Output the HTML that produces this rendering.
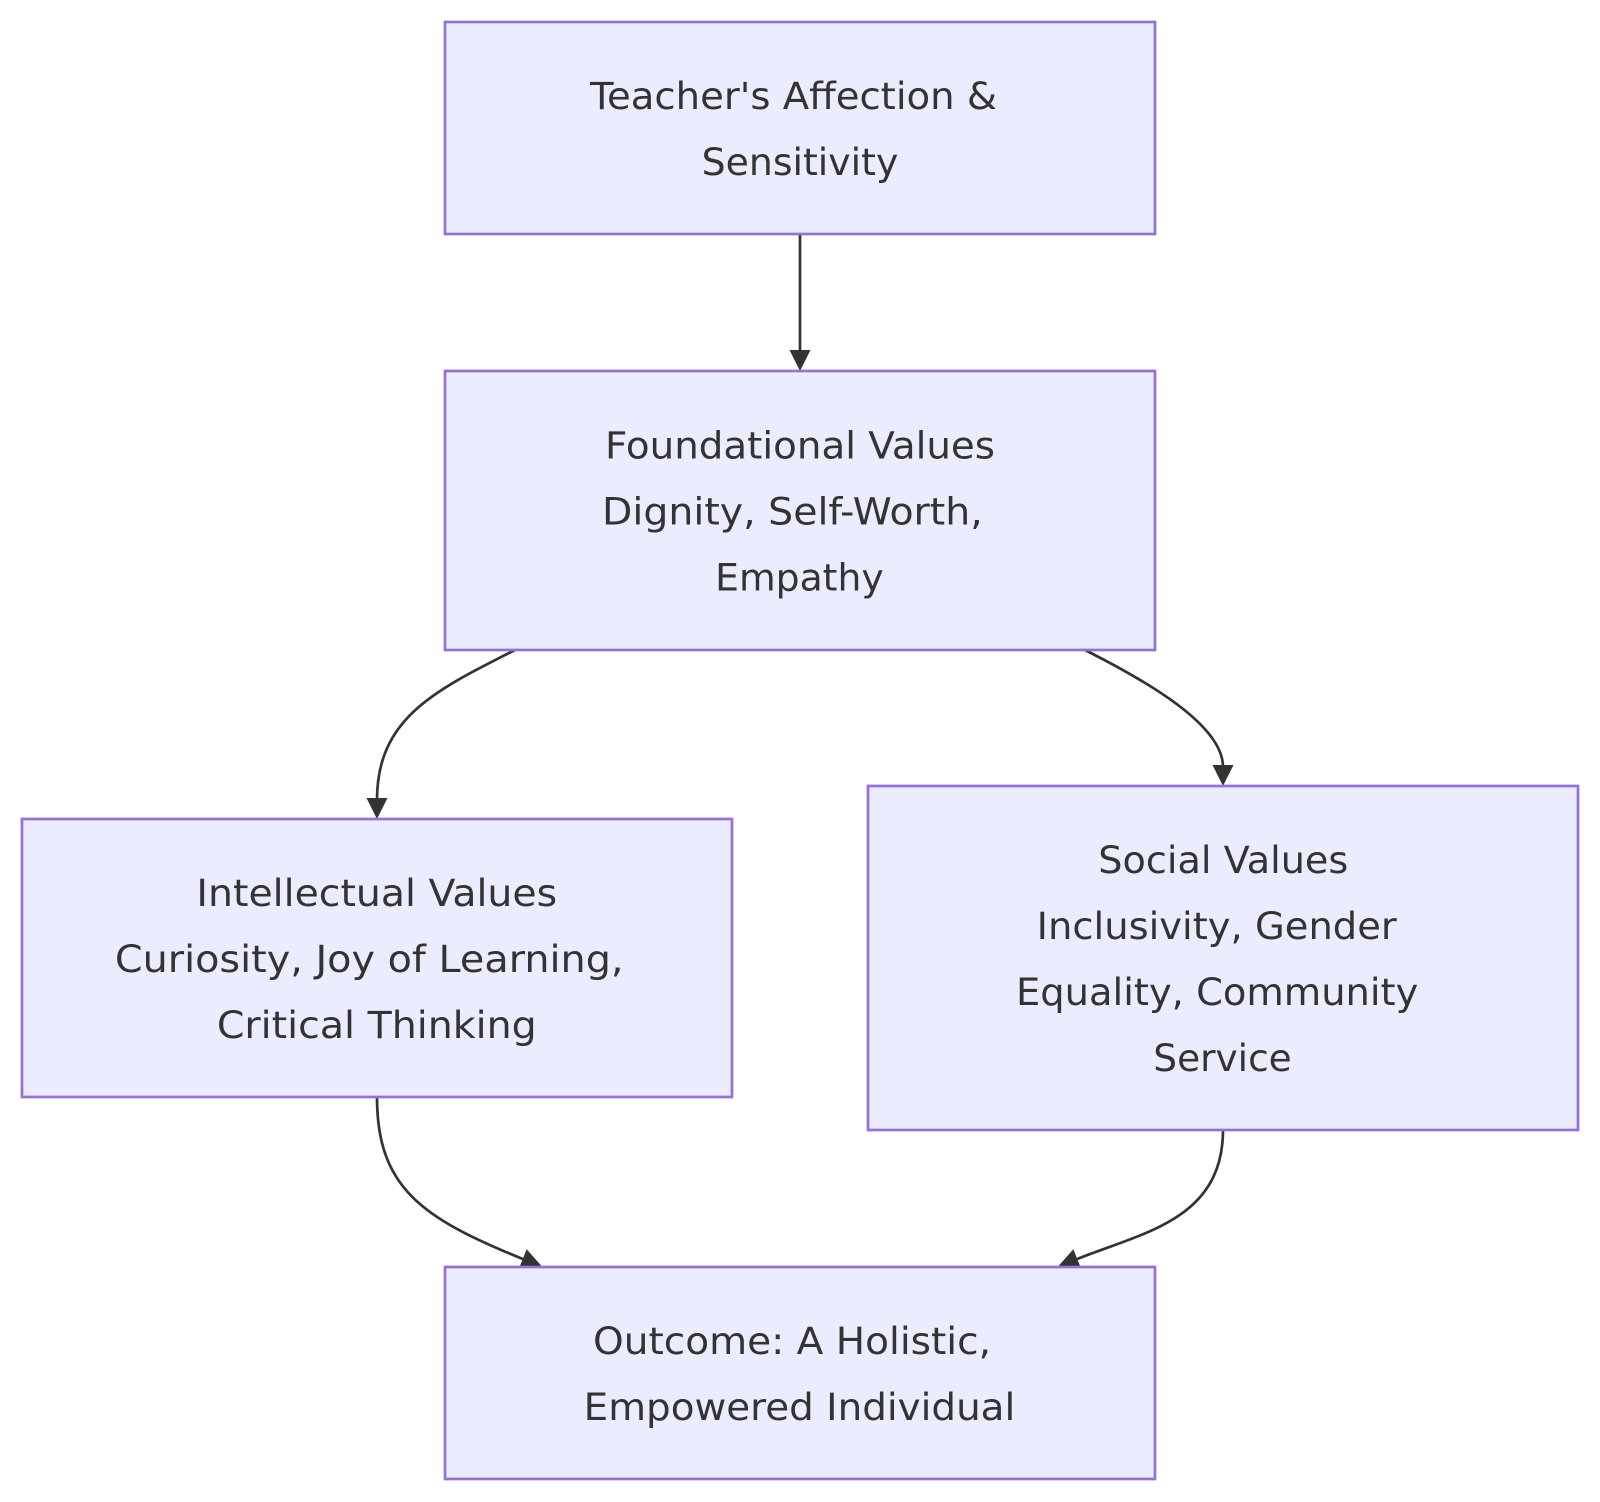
<!DOCTYPE html>
<html>
<head>
<meta charset="utf-8">
<style>
  html, body { margin: 0; padding: 0; background: #ffffff; }
  svg { display: block; }
  .node { fill: #ECECFF; stroke: #9370DB; stroke-width: 2.7; }
  .edge { fill: none; stroke: #333333; stroke-width: 2.7; }
  .arrow { fill: #333333; stroke: none; }
  text { font-family: "DejaVu Sans", "Liberation Sans", sans-serif; font-size: 37px; fill: #333333; }
</style>
</head>
<body>
<svg width="1600" height="1502" viewBox="0 0 1600 1502" xmlns="http://www.w3.org/2000/svg">
  <rect x="0" y="0" width="1600" height="1502" fill="#ffffff"/>

  <!-- Edges -->
  <path class="edge" d="M800,234 L800,352"/>
  <polygon class="arrow" points="789.5,350 810.5,350 800,371"/>

  <path class="edge" d="M515,650 C434.9,690.5 377,718 377,800"/>
  <polygon class="arrow" points="366.5,798 387.5,798 377,819"/>

  <path class="edge" d="M1085,650 C1147.3,681.5 1223,725 1223,767"/>
  <polygon class="arrow" points="1212.5,765 1233.5,765 1223,786"/>

  <path class="edge" d="M377,1097 C377,1187 420.8,1217.75 522.8,1259"/>
  <polygon class="arrow" points="526.7,1249.3 518.8,1268.7 542.3,1266.9"/>

  <path class="edge" d="M1223,1130 C1223,1220 1142.1,1232.75 1077.2,1259"/>
  <polygon class="arrow" points="1073.3,1249.3 1081.2,1268.7 1057.7,1266.9"/>

  <!-- Nodes -->
  <rect class="node" x="445" y="22" width="710" height="212"/>
  <rect class="node" x="445" y="371" width="710" height="279"/>
  <rect class="node" x="22" y="819" width="710" height="278"/>
  <rect class="node" x="868" y="786" width="710" height="344"/>
  <rect class="node" x="445" y="1267" width="710" height="212"/>

  <!-- Labels -->
  <text x="793.5" y="109" text-anchor="middle" textLength="407" lengthAdjust="spacingAndGlyphs">Teacher's Affection &amp;</text>
  <text x="800" y="175" text-anchor="middle" textLength="196.6" lengthAdjust="spacingAndGlyphs">Sensitivity</text>

  <text x="800" y="458.5" text-anchor="middle" textLength="390" lengthAdjust="spacingAndGlyphs">Foundational Values</text>
  <text x="792.4" y="524.5" text-anchor="middle" textLength="380.7" lengthAdjust="spacingAndGlyphs">Dignity, Self-Worth,</text>
  <text x="799.4" y="590.5" text-anchor="middle" textLength="168.5" lengthAdjust="spacingAndGlyphs">Empathy</text>

  <text x="376.8" y="906" text-anchor="middle" textLength="360.7" lengthAdjust="spacingAndGlyphs">Intellectual Values</text>
  <text x="369.2" y="972" text-anchor="middle" textLength="508.7" lengthAdjust="spacingAndGlyphs">Curiosity, Joy of Learning,</text>
  <text x="376.8" y="1038" text-anchor="middle" textLength="319.9" lengthAdjust="spacingAndGlyphs">Critical Thinking</text>

  <text x="1223.3" y="873" text-anchor="middle" textLength="250" lengthAdjust="spacingAndGlyphs">Social Values</text>
  <text x="1216.7" y="939" text-anchor="middle" textLength="360" lengthAdjust="spacingAndGlyphs">Inclusivity, Gender</text>
  <text x="1217.2" y="1005" text-anchor="middle" textLength="402.3" lengthAdjust="spacingAndGlyphs">Equality, Community</text>
  <text x="1222.5" y="1071" text-anchor="middle" textLength="138.4" lengthAdjust="spacingAndGlyphs">Service</text>

  <text x="792" y="1354" text-anchor="middle" textLength="398" lengthAdjust="spacingAndGlyphs">Outcome: A Holistic,</text>
  <text x="799.5" y="1420" text-anchor="middle" textLength="431.6" lengthAdjust="spacingAndGlyphs">Empowered Individual</text>
</svg>
</body>
</html>
